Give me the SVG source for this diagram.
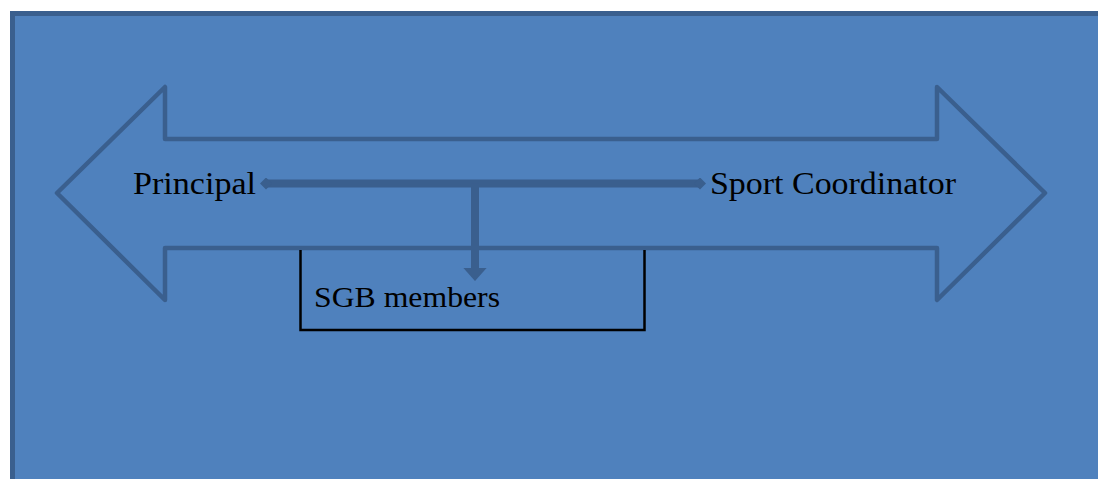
<svg xmlns="http://www.w3.org/2000/svg" width="1098" height="479" viewBox="0 0 1098 479">
<defs>
<style>
.lbl{font-family:"Liberation Serif","DejaVu Serif",serif;fill:#000;}
.conn{stroke:#3a5f8e;stroke-width:8;fill:none;}
</style>
<marker id="dia" viewBox="0 0 10 10" refX="5" refY="5" markerWidth="1.5" markerHeight="1.5" orient="auto">
<path d="M0,5 L5,0 L10,5 L5,10 Z" fill="#3a5f8e"/>
</marker>
<marker id="tri" viewBox="0 0 6 10" refX="0" refY="5" markerWidth="1.63" markerHeight="2.9" orient="auto" preserveAspectRatio="none">
<path d="M0,0 L6,5 L0,10 Z" fill="#3a5f8e"/>
</marker>
</defs>
<rect width="1098" height="479" fill="#ffffff"/>
<rect id="frame" x="12.5" y="13.5" width="1100" height="480" fill="#4f81bd" stroke="#3a5f8e" stroke-width="5"/>
<g id="big-arrow">
<path d="M57,193 L165,87 L165,139 L937,139 L937,87 L1045,193 L937,300 L937,248 L165,248 L165,300 Z" fill="#4f81bd" stroke="#3a5f8e" stroke-width="4.5" stroke-linejoin="round"/>
</g>
<g id="sgb">
<path d="M300.5,250 L300.5,330 L644.5,330 L644.5,250" fill="none" stroke="#000" stroke-width="2.5"/>
<text class="lbl" x="314" y="307" font-size="30" textLength="186" lengthAdjust="spacingAndGlyphs">SGB members</text>
</g>
<g id="principal">
<text class="lbl" x="133" y="194" font-size="31" textLength="123" lengthAdjust="spacingAndGlyphs">Principal</text>
</g>
<g id="sport">
<text class="lbl" x="710" y="194" font-size="31" textLength="246" lengthAdjust="spacingAndGlyphs">Sport Coordinator</text>
</g>
<g id="connectors">
<line class="conn" x1="266" y1="183.5" x2="700" y2="183.5" marker-start="url(#dia)" marker-end="url(#dia)"/>
<line class="conn" x1="475" y1="183.5" x2="475" y2="268" marker-end="url(#tri)"/>
</g>
</svg>
